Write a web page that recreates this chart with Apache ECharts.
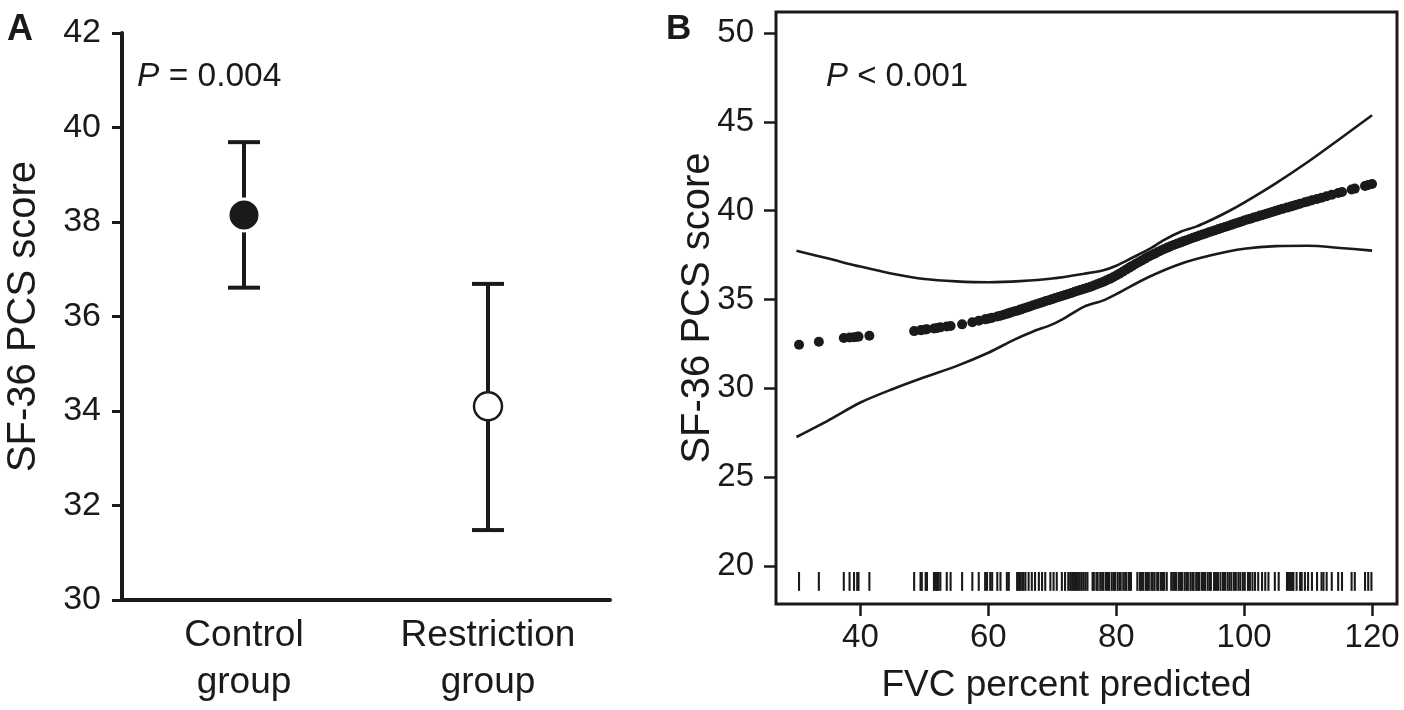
<!DOCTYPE html>
<html>
<head>
<meta charset="utf-8">
<script src="https://cdn.jsdelivr.net/npm/echarts@6/dist/echarts.min.js"></script>
<style>html,body{margin:0;padding:0;background:#fff;}#chart{width:1404px;height:710px;}</style>
</head>
<body>
<div id="chart"></div>
<script>
// ---------- Panel A data ----------
const groups = ['Control\ngroup', 'Restriction\ngroup'];
const groupMeans = [38.15, 34.1];
const groupLower = [36.61, 31.48];
const groupUpper = [39.69, 36.69];

// ---------- Panel B data ----------
const bXTicks = [40, 60, 80, 100, 120];
const bYTicks = [20, 25, 30, 35, 40, 45, 50];

const upperX = [30, 35, 40, 45, 50, 55, 60, 65, 70, 75, 78, 80, 82.5, 85, 87.5, 90, 92.5, 95, 97.5, 100, 105, 110, 115, 120];
const upperY = [37.74, 37.3, 36.85, 36.45, 36.15, 36.02, 35.97, 36.03, 36.18, 36.45, 36.65, 36.9, 37.35, 37.8, 38.35, 38.8, 39.1, 39.5, 39.95, 40.45, 41.55, 42.75, 44.05, 45.37];

const lowerX = [30, 35, 40, 45, 50, 55, 60, 64, 67, 70, 72, 75, 78, 80, 85, 90, 95, 100, 105, 110, 115, 120];
const lowerY = [27.26, 28.2, 29.2, 29.95, 30.62, 31.25, 32.0, 32.73, 33.2, 33.6, 33.97, 34.6, 34.95, 35.3, 36.25, 37.0, 37.5, 37.85, 38.0, 38.02, 37.9, 37.75];

const fitX = [30.4, 33.5, 37.4, 38.3, 39.0, 39.5, 39.7, 41.4, 48.4, 49.4, 49.6, 50.2, 50.4, 51.5, 52.0, 52.5, 53.5, 54.1, 55.9, 57.5, 58.5, 59.5, 59.8, 60.3, 60.6, 61.4, 61.9, 62.4, 62.9, 63.2,
  63.5, 64.0, 64.5, 65.0, 65.5, 66.0, 66.5, 67.0, 67.5, 68.0, 68.5, 69.0, 69.5, 70.0, 70.5, 71.0, 71.5, 72.0, 72.5, 73.0, 73.5, 74.0, 74.5, 75.0, 75.5, 76.0, 76.5, 77.0, 77.5, 78.0, 78.5, 79.0, 79.5,
  80.0, 80.5, 81.0, 81.5, 82.0, 82.5, 83.0, 83.5, 84.0, 84.5, 85.0, 85.5, 86.0, 86.5, 87.0, 87.5, 88.0, 88.5, 89.0, 89.5, 90.0, 90.5, 91.0, 91.5, 92.0, 92.5, 93.0, 93.5, 94.0, 94.5, 95.0, 95.5,
  96.0, 96.5, 97.0, 97.5, 98.0, 98.5, 99.0, 99.5, 100.0, 100.5, 101.0, 101.5, 102.0, 102.5, 103.0, 103.5, 104.0, 104.5, 105.0, 105.5, 106.0, 106.7, 107.3, 107.7, 108.2, 108.75, 109.5, 110.0,
  110.6, 111.4, 112.1, 112.9, 113.7, 114.7, 115.3, 116.8, 117.3, 118.9, 119.4, 120];
const fitY = [32.45, 32.62, 32.83, 32.86, 32.88, 32.9, 32.91, 32.96, 33.22, 33.27, 33.28, 33.31, 33.32, 33.37, 33.4, 33.43, 33.48, 33.51, 33.6, 33.72, 33.8, 33.88, 33.9, 33.94, 33.97, 34.04, 34.09, 34.14, 34.2, 34.23,
  34.27, 34.32, 34.37, 34.43, 34.49, 34.55, 34.61, 34.67, 34.73, 34.79, 34.85, 34.91, 34.96, 35.02, 35.08, 35.14, 35.2, 35.25, 35.31, 35.37, 35.43, 35.49, 35.55, 35.6, 35.66, 35.72, 35.79, 35.86, 35.93, 36.0, 36.08, 36.16, 36.25,
  36.35, 36.45, 36.56, 36.67, 36.78, 36.89, 37.0, 37.1, 37.2, 37.3, 37.4, 37.49, 37.58, 37.67, 37.76, 37.84, 37.92, 38.0, 38.07, 38.14, 38.2, 38.27, 38.34, 38.4, 38.47, 38.53, 38.6, 38.66, 38.72, 38.78, 38.84, 38.9,
  38.96, 39.02, 39.08, 39.14, 39.2, 39.26, 39.32, 39.38, 39.44, 39.5, 39.55, 39.61, 39.66, 39.72, 39.77, 39.83, 39.88, 39.94, 39.99, 40.05, 40.1, 40.17, 40.23, 40.28, 40.33, 40.39, 40.47, 40.52,
  40.58, 40.66, 40.73, 40.81, 40.89, 40.99, 41.05, 41.19, 41.24, 41.39, 41.44, 41.5];

const rugX = [30.4, 33.5, 37.4, 38.3, 39.0, 39.5, 39.7, 41.4, 48.4, 49.4, 49.6, 50.2, 50.4, 51.5, 51.8, 52.0, 52.2, 52.5, 53.5, 54.1, 55.9, 57.5, 58.5, 59.5, 59.8, 60.3, 60.6, 61.4, 61.9, 62.9, 63.2,
  64.5, 64.8, 65.0, 65.3, 65.5, 65.8, 66.3, 66.8, 67.3, 67.9, 68.4, 68.9, 69.7, 70.2, 70.7, 71.5, 72.0,
  72.5, 72.8, 73.1, 73.4, 73.7, 74.0, 74.3, 74.6, 74.9, 75.2, 75.5,
  76.3, 76.5, 76.9, 77.1, 77.5, 77.8, 78.0, 78.4, 78.7, 78.9, 79.3, 79.6, 79.8, 80.2, 80.5, 80.7, 81.1, 81.4, 81.6, 82.0, 82.3,
  83.3, 83.7, 83.9, 84.2, 84.6, 84.8, 85.1, 85.5, 85.7, 86.0, 86.4, 86.6, 87.0, 87.3, 87.5, 87.9, 88.6, 88.9, 89.2, 89.4, 89.8, 90.1, 90.3, 90.7, 91.0, 91.2, 91.6, 91.9, 92.1, 92.5, 92.8, 93.0, 93.4, 93.7, 93.9, 94.3, 94.6, 94.8, 95.3, 95.6, 95.9, 96.3, 96.7, 97.0, 97.4, 97.7,
  98.0, 98.4, 98.7, 99.1, 99.4, 99.8, 100.1, 100.6, 100.9, 101.3, 101.7,
  102.2, 102.8, 103.3, 103.8, 104.8, 105.4, 106.7, 107.0, 107.3, 107.5, 107.7, 108.2, 108.75, 109.0, 109.5, 110.0, 110.6, 111.4, 112.1, 112.4, 112.9, 113.7, 114.7, 115.3, 116.8, 117.3, 118.9, 119.4, 119.9];
const rugTop = 19.66;
const rugBottom = 18.6;

const FONT = '"Liberation Sans", Arial, Helvetica, sans-serif';
const INK = '#1a1a1a';

const chart = echarts.init(document.getElementById('chart'), null, {renderer: 'canvas'});

const option = {
  animation: false,
  backgroundColor: '#fff',
  textStyle: {fontFamily: FONT, color: INK},
  grid: [
    {left: 122, top: 33, width: 488, height: 567},
    {left: 776, top: 12, width: 621, height: 592, show: true, borderColor: INK, borderWidth: 3, backgroundColor: 'transparent'}
  ],
  xAxis: [
    {
      gridIndex: 0, type: 'category', data: groups, boundaryGap: true,
      axisLine: {lineStyle: {color: INK, width: 4}},
      axisTick: {show: false},
      axisLabel: {fontSize: 37, lineHeight: 47, color: INK, margin: 12, fontFamily: FONT}
    },
    {
      gridIndex: 1, type: 'value', min: 26.8, max: 123.9,
      axisLine: {show: false},
      splitLine: {show: false},
      axisTick: {show: true, customValues: bXTicks, length: 12, lineStyle: {color: INK, width: 2.5}},
      axisLabel: {customValues: bXTicks, fontSize: 33, color: INK, margin: 17, fontFamily: FONT},
      name: 'FVC percent predicted', nameLocation: 'middle', nameGap: 63,
      nameTextStyle: {fontSize: 37, color: INK, fontFamily: FONT, padding: [0, 40, 0, 0]}
    }
  ],
  yAxis: [
    {
      gridIndex: 0, type: 'value', min: 30, max: 42, interval: 2,
      axisLine: {show: true, lineStyle: {color: INK, width: 4}},
      axisTick: {show: true, length: 10, lineStyle: {color: INK, width: 3}},
      splitLine: {show: false},
      axisLabel: {fontSize: 34, color: INK, margin: 21, fontFamily: FONT},
      name: 'SF-36 PCS score', nameLocation: 'middle', nameGap: 78,
      nameTextStyle: {fontSize: 40, color: INK, fontFamily: FONT}
    },
    {
      gridIndex: 1, type: 'value', min: 17.86, max: 51.18,
      axisLine: {show: false},
      splitLine: {show: false},
      axisTick: {show: true, customValues: bYTicks, length: 12, lineStyle: {color: INK, width: 2.5}},
      axisLabel: {customValues: bYTicks, fontSize: 33, color: INK, margin: 22, fontFamily: FONT}
    }
  ],
  graphic: [
    {type: 'text', left: 7, top: 12, style: {text: 'A', font: 'bold 36px ' + FONT, fill: INK}},
    {type: 'text', left: 666, top: 12, style: {text: 'B', font: 'bold 35px ' + FONT, fill: INK}},
    {type: 'text', x: 698, y: 308, rotation: Math.PI / 2,
      style: {text: 'SF-36 PCS score', font: '40px ' + FONT, fill: INK, textAlign: 'center', textVerticalAlign: 'middle'}},
    {type: 'text', left: 137, top: 60, style: {text: '{i|P} = 0.004', fontSize: 33.5, fontFamily: FONT, fill: INK,
      rich: {i: {fontStyle: 'italic', fontSize: 33.5, fontFamily: FONT, fill: INK}}}},
    {type: 'text', left: 826, top: 60, style: {text: '{i|P} < 0.001', fontSize: 33, fontFamily: FONT, fill: INK,
      rich: {i: {fontStyle: 'italic', fontSize: 33, fontFamily: FONT, fill: INK}}}}
  ],
  series: [
    // Panel A error bars
    {
      type: 'custom', xAxisIndex: 0, yAxisIndex: 0, z: 2,
      encode: {x: 0, y: [1, 2]},
      data: groups.map((g, i) => [i, groupLower[i], groupUpper[i]]),
      renderItem: function (params, api) {
        const i = api.value(0);
        const lo = api.coord([i, api.value(1)]);
        const hi = api.coord([i, api.value(2)]);
        const hw = 16;
        const st = {stroke: INK, lineWidth: 4};
        return {type: 'group', children: [
          {type: 'line', shape: {x1: lo[0], y1: lo[1], x2: hi[0], y2: hi[1]}, style: st},
          {type: 'line', shape: {x1: lo[0] - hw, y1: lo[1], x2: lo[0] + hw, y2: lo[1]}, style: st},
          {type: 'line', shape: {x1: hi[0] - hw, y1: hi[1], x2: hi[0] + hw, y2: hi[1]}, style: st}
        ]};
      }
    },
    // Panel A means
    {
      type: 'scatter', xAxisIndex: 0, yAxisIndex: 0, z: 5,
      data: groupMeans.map((v, i) => ({
        value: [i, v],
        symbolSize: i === 0 ? 32 : 28,
        itemStyle: i === 0
          ? {color: INK, borderColor: '#fff', borderWidth: 3, opacity: 1}
          : {color: '#fff', borderColor: INK, borderWidth: 2.5, opacity: 1}
      }))
    },
    // Panel B rug
    {
      type: 'custom', xAxisIndex: 1, yAxisIndex: 1, z: 2,
      encode: {x: 0, y: 1},
      data: rugX.map(v => [v, rugTop]),
      renderItem: function (params, api) {
        const x = api.value(0);
        const p1 = api.coord([x, rugTop]);
        const p2 = api.coord([x, rugBottom]);
        return {type: 'line', shape: {x1: p1[0], y1: p1[1], x2: p2[0], y2: p2[1]}, style: {stroke: INK, lineWidth: 2.1}};
      }
    },
    // Panel B confidence band
    {
      type: 'line', xAxisIndex: 1, yAxisIndex: 1, smooth: 0.3, symbol: 'none', z: 3,
      lineStyle: {color: INK, width: 2.6},
      data: upperX.map((x, i) => [x, upperY[i]])
    },
    {
      type: 'line', xAxisIndex: 1, yAxisIndex: 1, smooth: 0.3, symbol: 'none', z: 3,
      lineStyle: {color: INK, width: 2.6},
      data: lowerX.map((x, i) => [x, lowerY[i]])
    },
    // Panel B fitted values
    {
      type: 'scatter', xAxisIndex: 1, yAxisIndex: 1, z: 4,
      symbolSize: 10,
      itemStyle: {color: INK, opacity: 1},
      data: fitX.map((x, i) => [x, fitY[i]])
    }
  ]
};
chart.setOption(option);
</script>
</body>
</html>
